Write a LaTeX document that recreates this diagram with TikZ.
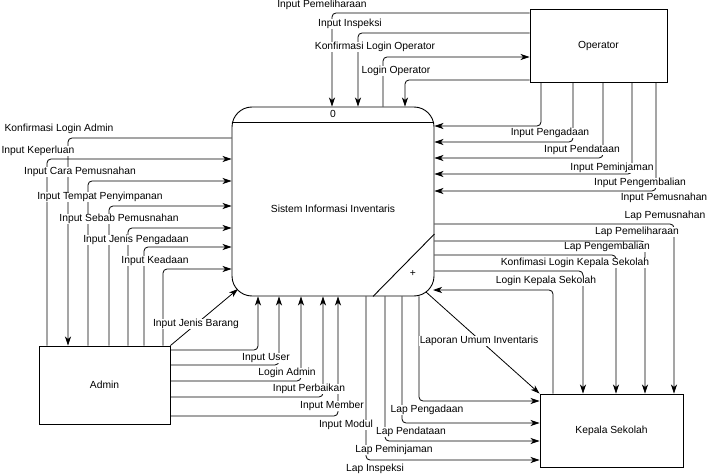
\documentclass[tikz,border=0pt]{standalone}
\usepackage{fontspec}
\setmainfont{Liberation Sans}
\usetikzlibrary{arrows.meta,calc}
\newcommand\dfdfont{\fontsize{10.3}{12}\selectfont}
\begin{document}
\begin{tikzpicture}[x=1pt,y=-1pt,
  ent/.style={draw, line width=0.9pt, inner sep=0pt, font=\dfdfont},
  flow/.style={draw, line width=0.8pt, rounded corners=4pt, -{Stealth[length=9pt,width=6pt,inset=2.5pt]}},
  lbl/.style={fill=white, inner sep=0.6pt, font=\dfdfont}]
\useasboundingbox (0,0) rectangle (712,476);

% entities
\node[ent, minimum width=137pt, minimum height=73pt] (O) at (598.5,45.5) {Operator};
\node[ent, minimum width=131pt, minimum height=78pt] (A) at (104.5,385) {Admin};
\node[ent, minimum width=143pt, minimum height=73pt] (K) at (611.5,430.5) {Kepala Sekolah};

% process
\node[draw, line width=0.9pt, rounded corners=20pt, minimum width=202pt, minimum height=189pt, inner sep=0pt] (P) at (333,201.5) {};
\draw[line width=0.9pt] (P.west |- 0,122) -- (P.east |- 0,122);
\draw[line width=0.9pt] (P.east |- 0,234) -- (373,0 |- P.south);
\node[font=\dfdfont, inner sep=0pt] (Pnum) at (333,114) {0};
\node[font=\dfdfont, inner sep=0pt] (Pplus) at (413,274) {+};
\node[font=\dfdfont, inner sep=0pt] (Ptxt) at (333,209) {Sistem Informasi Inventaris};

% Operator -> process (top)
\draw[flow] (O.west |- 0,13) -| (332,0 |- P.north);
\draw[flow] (O.west |- 0,33) -| (358,0 |- P.north);
\draw[flow] (383,0 |- P.north) |- (O.west |- 0,57);
\draw[flow] (O.west |- 0,80) -| (405,0 |- P.north);

% Operator bottom -> process right
\draw[flow] (541,0 |- O.south) |- (P.east |- 0,126);
\draw[flow] (573,0 |- O.south) |- (P.east |- 0,142);
\draw[flow] (603,0 |- O.south) |- (P.east |- 0,158);
\draw[flow] (632,0 |- O.south) |- (P.east |- 0,174);
\draw[flow] (656,0 |- O.south) |- (P.east |- 0,191);

% process right -> Kepala Sekolah top
\draw[flow] (P.east |- 0,224) -| (674,0 |- K.north);
\draw[flow] (P.east |- 0,241) -| (645,0 |- K.north);
\draw[flow] (P.east |- 0,255) -| (616,0 |- K.north);
\draw[flow] (P.east |- 0,271) -| (583,0 |- K.north);
\draw[flow] (553,0 |- K.north) |- (433,290);
\draw[flow] (426,292) -- (K.north west);

% process bottom -> Kepala Sekolah left
\draw[flow] (419,0 |- P.south) |- (K.west |- 0,401);
\draw[flow] (402,0 |- P.south) |- (K.west |- 0,423);
\draw[flow] (385,0 |- P.south) |- (K.west |- 0,441);
\draw[flow] (366,0 |- P.south) |- (K.west |- 0,460);

% Admin right -> process bottom
\draw[flow] (A.east |- 0,350) -| (258,0 |- P.south);
\draw[flow] (A.east |- 0,365) -| (279,0 |- P.south);
\draw[flow] (A.east |- 0,381) -| (301,0 |- P.south);
\draw[flow] (A.east |- 0,397) -| (323,0 |- P.south);
\draw[flow] (A.east |- 0,416) -| (338,0 |- P.south);
\draw[flow] (A.north east) -- (238,289);

% Admin top <-> process left
\draw[flow] (P.west |- 0,138) -| (68,0 |- A.north);
\draw[flow] (47,0 |- A.north) |- (P.west |- 0,159);
\draw[flow] (88,0 |- A.north) |- (P.west |- 0,181);
\draw[flow] (109,0 |- A.north) |- (P.west |- 0,206);
\draw[flow] (128,0 |- A.north) |- (P.west |- 0,228);
\draw[flow] (144,0 |- A.north) |- (P.west |- 0,247);
\draw[flow] (163,0 |- A.north) |- (P.west |- 0,269);

% labels
\node[lbl] (l1) at (322,5) {Input Pemeliharaan};
\node[lbl] (l2) at (350,24) {Input Inspeksi};
\node[lbl] (l3) at (375,47) {Konfirmasi Login Operator};
\node[lbl] (l4) at (396,71) {Login Operator};
\node[lbl] (l5) at (550,133) {Input Pengadaan};
\node[lbl] (l6) at (582,150) {Input Pendataan};
\node[lbl] (l7) at (612,168) {Input Peminjaman};
\node[lbl] (l8) at (640,183) {Input Pengembalian};
\node[lbl] (l9) at (664,198) {Input Pemusnahan};
\node[lbl] (l10) at (665,216) {Lap Pemusnahan};
\node[lbl] (l11) at (637,232) {Lap Pemeliharaan};
\node[lbl] (l12) at (607,247) {Lap Pengembalian};
\node[lbl] (l13) at (575,263) {Konfimasi Login Kepala Sekolah};
\node[lbl] (l14) at (546,281) {Login Kepala Sekolah};
\node[lbl] (l15) at (479,341) {Laporan Umum Inventaris};
\node[lbl] (l16) at (427,410) {Lap Pengadaan};
\node[lbl] (l17) at (411,432) {Lap Pendataan};
\node[lbl] (l18) at (394,450) {Lap Peminjaman};
\node[lbl] (l19) at (375,469) {Lap Inspeksi};
\node[lbl] (l20) at (266,358) {Input User};
\node[lbl] (l21) at (287,373) {Login Admin};
\node[lbl] (l22) at (309,389) {Input Perbaikan};
\node[lbl] (l23) at (332,406) {Input Member};
\node[lbl] (l24) at (346,425) {Input Modul};
\node[lbl] (l25) at (196,324) {Input Jenis Barang};
\node[lbl] (l26) at (59,129) {Konfirmasi Login Admin};
\node[lbl] (l27) at (38,151) {Input Keperluan};
\node[lbl] (l28) at (80,172) {Input Cara Pemusnahan};
\node[lbl] (l29) at (100,197) {Input Tempat Penyimpanan};
\node[lbl] (l30) at (119,219) {Input Sebab Pemusnahan};
\node[lbl] (l31) at (136,240) {Input Jenis Pengadaan};
\node[lbl] (l32) at (155,261) {Input Keadaan};
\end{tikzpicture}
\end{document}
